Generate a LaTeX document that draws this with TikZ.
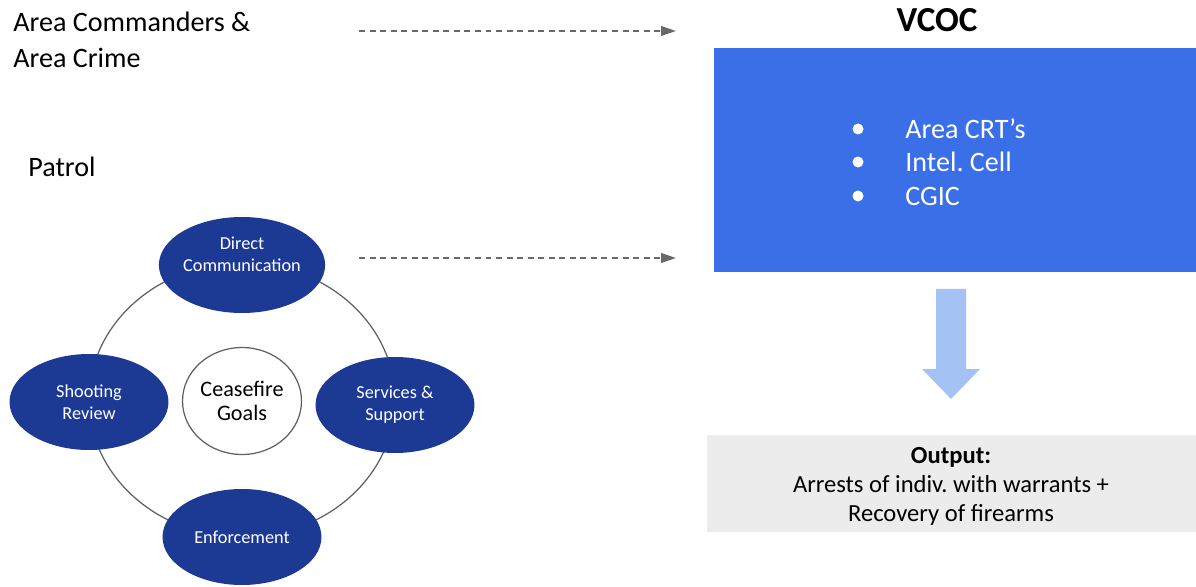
\documentclass[tikz,border=0pt]{standalone}
\usepackage{fontspec}
\setmainfont{Carlito}
\usetikzlibrary{arrows.meta,shapes.geometric}
\definecolor{navyblue}{RGB}{28,57,148}
\definecolor{vcocblue}{RGB}{59,111,232}
\definecolor{lightarrow}{RGB}{164,194,244}
\definecolor{outgray}{RGB}{236,236,236}
\definecolor{dashgray}{RGB}{105,105,105}
\definecolor{ringgray}{RGB}{95,95,95}
\tikzset{
    goal/.style={ellipse, fill=navyblue, text=white, minimum width=3.18cm, minimum height=1.92cm,
        align=center, inner sep=0pt, font=\fontsize{10.4}{12.5}\selectfont},
    plain/.style={anchor=west, inner sep=0pt, align=left, font=\fontsize{16}{20.4}\selectfont},
    feed/.style={dashgray, line width=1pt, dash pattern=on 3.4pt off 2.6pt,
        -{Triangle[length=8.5pt,width=5.5pt]}},
}
\frenchspacing
\begin{document}
\begin{tikzpicture}[x=0.02cm, y=-0.02cm]
    \useasboundingbox (0,0) rectangle (1196,587);
    % left side
    \node[plain] (area) at (13,40) {Area Commanders \&\\Area Crime};
    \node[plain] (patrol) at (28,167) {Patrol};
    \draw[ringgray, line width=0.7pt] (242,400) ellipse [x radius=3.06cm, y radius=2.74cm];
    \node[goal] (direct) at (242,265) {Direct\\Communication\\\mbox{}};
    \node[goal] (shoot) at (89,402) {Shooting\\Review};
    \node[goal] (serv) at (395,405) {Services \&\\Support};
    \node[goal] (enf) at (242,537) {Enforcement};
    \node[ellipse, draw=ringgray, fill=white, line width=0.7pt, minimum width=2.38cm, minimum height=2.14cm,
        align=center, inner sep=0pt, font=\fontsize{12.6}{13.6}\selectfont] (goals) at (242,401) {Ceasefire\\Goals};
    % dashed feeds
    \coordinate (f1s) at (359,31);
    \coordinate (f1e) at (676,31);
    \coordinate (f2s) at (359,258);
    \coordinate (f2e) at (676,258);
    \draw[feed] (f1s) -- (f1e);
    \draw[feed] (f2s) -- (f2e);
    % right side
    \node[font=\fontsize{20}{24}\selectfont\bfseries] (vcoc) at (937,20) {VCOC};
    \fill[vcocblue] (714,48) rectangle (1196,272);
    \foreach \yy/\txt in {129/Area CRT’s, 162/Intel. Cell, 196/CGIC} {
        \fill[white] (858,\yy) circle (0.11cm);
        \node[plain, text=white] at (905,\yy) {\txt};
    }
    \fill[lightarrow] (936,289) -- (966,289) -- (966,369) -- (980,369) -- (951,399) -- (922,369) -- (936,369) -- cycle;
    \fill[outgray] (707,435) rectangle (1196,532);
    \node[align=center, inner sep=0pt, font=\fontsize{14}{16.5}\selectfont] (out) at (951,486)
        {\textbf{Output:}\\Arrests of indiv. with warrants +\\Recovery of firearms};
\end{tikzpicture}
\end{document}
